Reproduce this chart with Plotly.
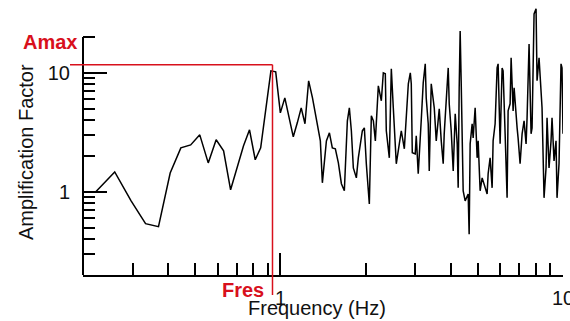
import math
import plotly.graph_objects as go

# ---------------- data ----------------
freq = [0.222, 0.259, 0.296, 0.333, 0.370, 0.407, 0.444, 0.481, 0.518, 0.555,
        0.592, 0.629, 0.666, 0.703, 0.740, 0.777, 0.814, 0.851, 0.888, 0.925,
        0.962, 0.999, 1.036, 1.073, 1.110, 1.147, 1.184, 1.221, 1.258,
        1.298, 1.351, 1.384, 1.407, 1.454, 1.490, 1.526, 1.564, 1.603, 1.643,
        1.683, 1.725, 1.753, 1.782, 1.811, 1.856, 1.886, 1.949, 1.981, 2.013,
        2.046, 2.063, 2.097, 2.132, 2.167, 2.220, 2.275, 2.312, 2.350, 2.369,
        2.428, 2.468, 2.508, 2.550, 2.570, 2.634, 2.677, 2.744, 2.835, 2.881,
        2.904, 2.928, 2.999, 3.024, 3.073, 3.149, 3.201, 3.254, 3.280, 3.334,
        3.362, 3.417, 3.473, 3.502, 3.559, 3.647, 3.707, 3.767, 3.798, 3.860,
        3.924, 3.956, 4.021, 4.087, 4.154, 4.222, 4.256, 4.291, 4.325, 4.361,
        4.396, 4.433, 4.505, 4.617, 4.654, 4.692, 4.769, 4.808, 4.887, 4.967,
        5.008, 5.090, 5.174, 5.216, 5.302, 5.388, 5.433, 5.521, 5.612, 5.658,
        5.751, 5.845, 5.893, 5.990, 6.088, 6.138, 6.239, 6.341, 6.393, 6.498,
        6.552, 6.605, 6.659, 6.714, 6.769, 6.880, 6.935, 7.049, 7.165, 7.282,
        7.401, 7.462, 7.584, 7.709, 7.772, 7.899, 8.029, 8.094, 8.227, 8.362,
        8.430, 8.568, 8.709, 8.780, 8.924, 9.071, 9.145, 9.295, 9.448, 9.525,
        9.681, 9.840, 9.920, 10.0]

amp = [1.00, 1.47, 0.84, 0.54, 0.51, 1.44, 2.34, 2.48, 3.01, 1.75,
       2.74, 2.21, 1.04, 1.65, 2.44, 3.32, 1.86, 2.34, 4.89, 10.4,
       10.2, 4.61, 6.16, 4.26, 2.90, 3.80, 5.08, 3.73, 8.57,
       6.16, 3.73, 2.68, 1.19, 2.68, 3.13, 2.34, 2.30, 1.75, 1.17,
       1.02, 3.95, 5.08, 3.26, 1.59, 1.31, 1.93, 3.26, 3.45, 1.72,
       0.96, 0.79, 4.35, 3.95, 2.68, 7.78, 5.82, 10.0, 9.81, 3.26,
       1.93, 10.8, 5.08, 2.21, 1.72, 2.53, 3.26, 2.30, 8.09, 10.0,
       8.09, 2.13, 2.08, 2.96, 1.42, 3.95, 8.24, 11.9, 6.16, 3.73,
       1.50, 8.09, 6.16, 5.08, 2.68, 4.98, 2.68, 1.72, 3.07, 5.82,
       11.0, 5.49, 3.26, 1.50, 4.52, 2.53, 1.08, 7.48, 22.5, 8.57,
       2.84, 1.02, 0.84, 0.96, 0.44, 2.53, 3.73, 2.84, 5.08, 1.93,
       2.68, 1.02, 1.31, 1.24, 1.08, 0.96, 1.42, 1.93, 1.08, 2.68,
       3.73, 11.0, 11.9, 2.53, 11.0, 10.4, 3.07, 0.89, 4.79, 5.49,
       13.4, 7.48, 4.79, 7.48, 5.49, 3.45, 2.84, 1.72, 3.07, 3.95,
       2.53, 4.19, 17.5, 3.07, 3.45, 31.3, 34.5, 8.57, 13.4, 5.82,
       5.08, 0.89, 1.59, 4.19, 1.59, 2.68, 4.19, 1.82, 2.68, 0.89,
       1.72, 11.9, 11.0, 3.07]

fres = 0.937   # resonance frequency (Hz)
amax = 11.7    # peak amplification

x_major = [1, 10]
x_major_text = ["1", "10"]
x_minor = [0.3, 0.4, 0.5, 0.6, 0.7, 0.8, 0.9, 2, 3, 4, 5, 6, 7, 8, 9]
y_major = [1, 10]
y_major_text = ["1", "10"]
y_minor = [0.3, 0.4, 0.5, 0.6, 0.7, 0.8, 0.9, 2, 3, 4, 5, 6, 7, 8, 9, 20]

assert len(freq) == len(amp)

# ---------------- layout geometry ----------------
W, H = 570, 321
ML, MR, MT, MB = 83, 7, 0, 46
PW, PH = W - ML - MR, H - MT - MB
x_lo, x_hi = math.log10(0.2), 1.0
y_lo = math.log10(0.2)
y_hi = y_lo + PH / 119.0           # 119 px per decade
y_axis_top = 20

def xp(v):  # data -> paper
    return (math.log10(v) - x_lo) / (x_hi - x_lo)

def yp(v):
    return (math.log10(v) - y_lo) / (y_hi - y_lo)

def px_x(p):  # pixel -> paper
    return (p - ML) / PW

def px_y(p):
    return (MT + PH - p) / PH

FONT = "Liberation Sans, Arial, sans-serif"
RED = "#d8101c"
INK = "#111111"

fig = go.Figure()
fig.add_trace(go.Scatter(x=freq, y=amp, mode="lines",
                         line=dict(color="#000000", width=1.5),
                         showlegend=False, hoverinfo="skip"))

fig.update_xaxes(type="log", range=[x_lo, x_hi], showgrid=False, zeroline=False,
                 showline=True, linecolor="#000000", linewidth=2,
                 ticks="inside", ticklen=22, tickwidth=1.6, tickcolor="#000000",
                 tickmode="array", tickvals=x_major, ticktext=x_major_text,
                 ticklabeloverflow="allow", ticklabelstandoff=4,
                 tickfont=dict(family=FONT, size=20, color=INK),
                 minor=dict(ticks="inside", ticklen=12, tickwidth=1.6,
                            tickcolor="#000000", tickmode="array",
                            tickvals=x_minor, showgrid=False),
                 automargin=False)
fig.update_yaxes(type="log", range=[y_lo, y_hi], showgrid=False, zeroline=False,
                 showline=False,
                 ticks="inside", ticklen=24, tickwidth=1.6, tickcolor="#000000",
                 tickmode="array", tickvals=y_major, ticktext=y_major_text,
                 ticklabeloverflow="allow", ticklabelstandoff=12,
                 tickfont=dict(family=FONT, size=20, color=INK),
                 minor=dict(ticks="inside", ticklen=12, tickwidth=1.6,
                            tickcolor="#000000", tickmode="array",
                            tickvals=y_minor, showgrid=False),
                 automargin=False)

shapes = [
    # y axis line (stops at 20)
    dict(type="line", xref="paper", yref="paper", x0=0, x1=0,
         y0=0, y1=yp(y_axis_top), line=dict(color="#000000", width=2)),
    # Amax horizontal marker
    dict(type="line", xref="paper", yref="paper", x0=px_x(70), x1=xp(fres),
         y0=yp(amax), y1=yp(amax), line=dict(color=RED, width=1.5)),
    # Fres vertical marker
    dict(type="line", xref="paper", yref="paper", x0=xp(fres), x1=xp(fres),
         y0=yp(amax), y1=px_y(295), line=dict(color=RED, width=1.5)),
]

annotations = [
    dict(text="Amplification Factor", xref="paper", yref="paper",
         x=px_x(26), y=px_y(152), textangle=-90, showarrow=False,
         xanchor="center", yanchor="middle",
         font=dict(family=FONT, size=20, color=INK)),
    dict(text="Frequency (Hz)", xref="paper", yref="paper",
         x=px_x(317), y=px_y(308), showarrow=False,
         xanchor="center", yanchor="middle",
         font=dict(family=FONT, size=20, color=INK)),
    dict(text="<b>Amax</b>", xref="paper", yref="paper",
         x=px_x(50), y=px_y(42), showarrow=False,
         xanchor="center", yanchor="middle",
         font=dict(family=FONT, size=20, color=RED)),
    dict(text="<b>Fres</b>", xref="paper", yref="paper",
         x=px_x(243), y=px_y(290), showarrow=False,
         xanchor="center", yanchor="middle",
         font=dict(family=FONT, size=20, color=RED)),
]

fig.update_layout(width=W, height=H, margin=dict(l=ML, r=MR, t=MT, b=MB),
                  paper_bgcolor="#ffffff", plot_bgcolor="#ffffff",
                  shapes=shapes, annotations=annotations, showlegend=False)

fig.write_html("out.html")
